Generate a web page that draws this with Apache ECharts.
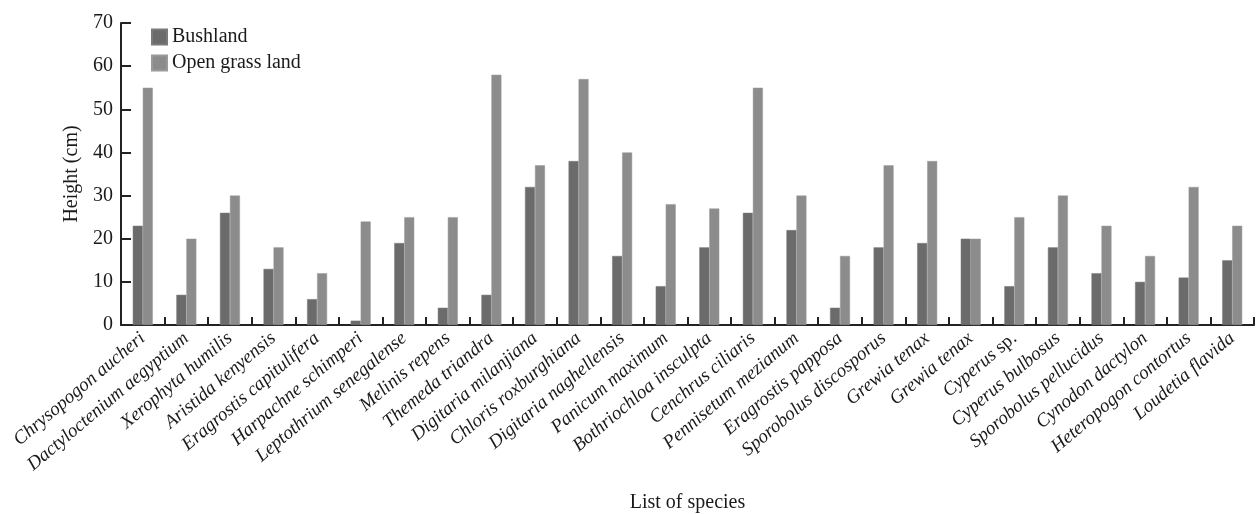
<!DOCTYPE html>
<html>
<head>
<meta charset="utf-8">
<script src="https://cdn.jsdelivr.net/npm/echarts@6/dist/echarts.min.js"></script>
<style>
html,body{margin:0;padding:0;background:#fff;}
#chart{width:1257px;height:514px;}
</style>
</head>
<body>
<div id="chart"></div>
<script>
const categories = [
  'Chrysopogon aucheri','Dactyloctenium aegyptium','Xerophyta humilis','Aristida kenyensis',
  'Eragrostis capitulifera','Harpachne schimperi','Leptothrium senegalense','Melinis repens',
  'Themeda triandra','Digitaria milanjiana','Chloris roxburghiana','Digitaria naghellensis',
  'Panicum maximum','Bothriochloa insculpta','Cenchrus ciliaris','Pennisetum mezianum',
  'Eragrostis papposa','Sporobolus discosporus','Grewia tenax','Grewia tenax',
  'Cyperus sp.','Cyperus bulbosus','Sporobolus pellucidus','Cynodon dactylon',
  'Heteropogon contortus','Loudetia flavida'
];
const bushland = [23,7,26,13,6,1,19,4,7,32,38,16,9,18,26,22,4,18,19,20,9,18,12,10,11,15];
const openGrassland = [55,20,30,18,12,24,25,25,58,37,57,40,28,27,55,30,16,37,38,20,25,30,23,16,32,23];
const yTicks = [0,10,20,30,40,50,60,70];

const FONT = '"Liberation Serif","Times New Roman",serif';
const chart = echarts.init(document.getElementById('chart'));
chart.setOption({
  animation: false,
  backgroundColor: '#fff',
  grid: { left: 121, right: 3, top: 23, bottom: 189, containLabel: false, outerBoundsMode: 'none' },
  legend: {
    left: 146, top: 22, orient: 'vertical', itemWidth: 15, itemHeight: 15, itemGap: 6,
    icon: 'rect',
    textStyle: { fontFamily: FONT, fontSize: 20, color: '#1a1a1a' },
    data: ['Bushland', 'Open grass land']
  },
  xAxis: {
    type: 'category',
    data: categories,
    name: 'List of species',
    nameLocation: 'middle',
    nameGap: 168,
    nameTextStyle: { fontFamily: FONT, fontSize: 20, color: '#1a1a1a' },
    axisLine: { lineStyle: { color: '#222', width: 2 } },
    axisTick: { show: true, inside: true, length: 8, lineStyle: { color: '#222', width: 2 } },
    axisLabel: {
      interval: 0, rotate: 40, margin: 11,
      fontFamily: FONT, fontSize: 19, fontStyle: 'italic', color: '#1a1a1a',
      formatter: function (v) {
        if (v.slice(-4) === ' sp.') return '{i|' + v.slice(0, -4) + '} {n|sp.}';
        return '{i|' + v + '}';
      },
      rich: {
        i: { fontFamily: FONT, fontSize: 19, fontStyle: 'italic', color: '#1a1a1a' },
        n: { fontFamily: FONT, fontSize: 19, fontStyle: 'normal', color: '#1a1a1a' }
      }
    }
  },
  yAxis: {
    type: 'value', min: yTicks[0], max: yTicks[yTicks.length - 1], interval: 10,
    name: 'Height (cm)',
    nameLocation: 'middle',
    nameGap: 35,
    nameTextStyle: { fontFamily: FONT, fontSize: 20, color: '#1a1a1a' },
    axisLine: { show: true, lineStyle: { color: '#222', width: 2 } },
    axisTick: { show: true, inside: true, length: 10, lineStyle: { color: '#222', width: 2 } },
    axisLabel: { fontFamily: FONT, fontSize: 20, color: '#1a1a1a', margin: 8 },
    splitLine: { show: false }
  },
  series: [
    { name: 'Bushland', type: 'bar', data: bushland, barWidth: 10, barGap: '0%',
      itemStyle: { color: '#6b6b6b', borderColor: '#7a7a7a', borderWidth: 0.5 } },
    { name: 'Open grass land', type: 'bar', data: openGrassland, barWidth: 10, barGap: '0%',
      itemStyle: { color: '#8c8c8c', borderColor: '#9a9a9a', borderWidth: 0.5 } }
  ]
});
</script>
</body>
</html>
